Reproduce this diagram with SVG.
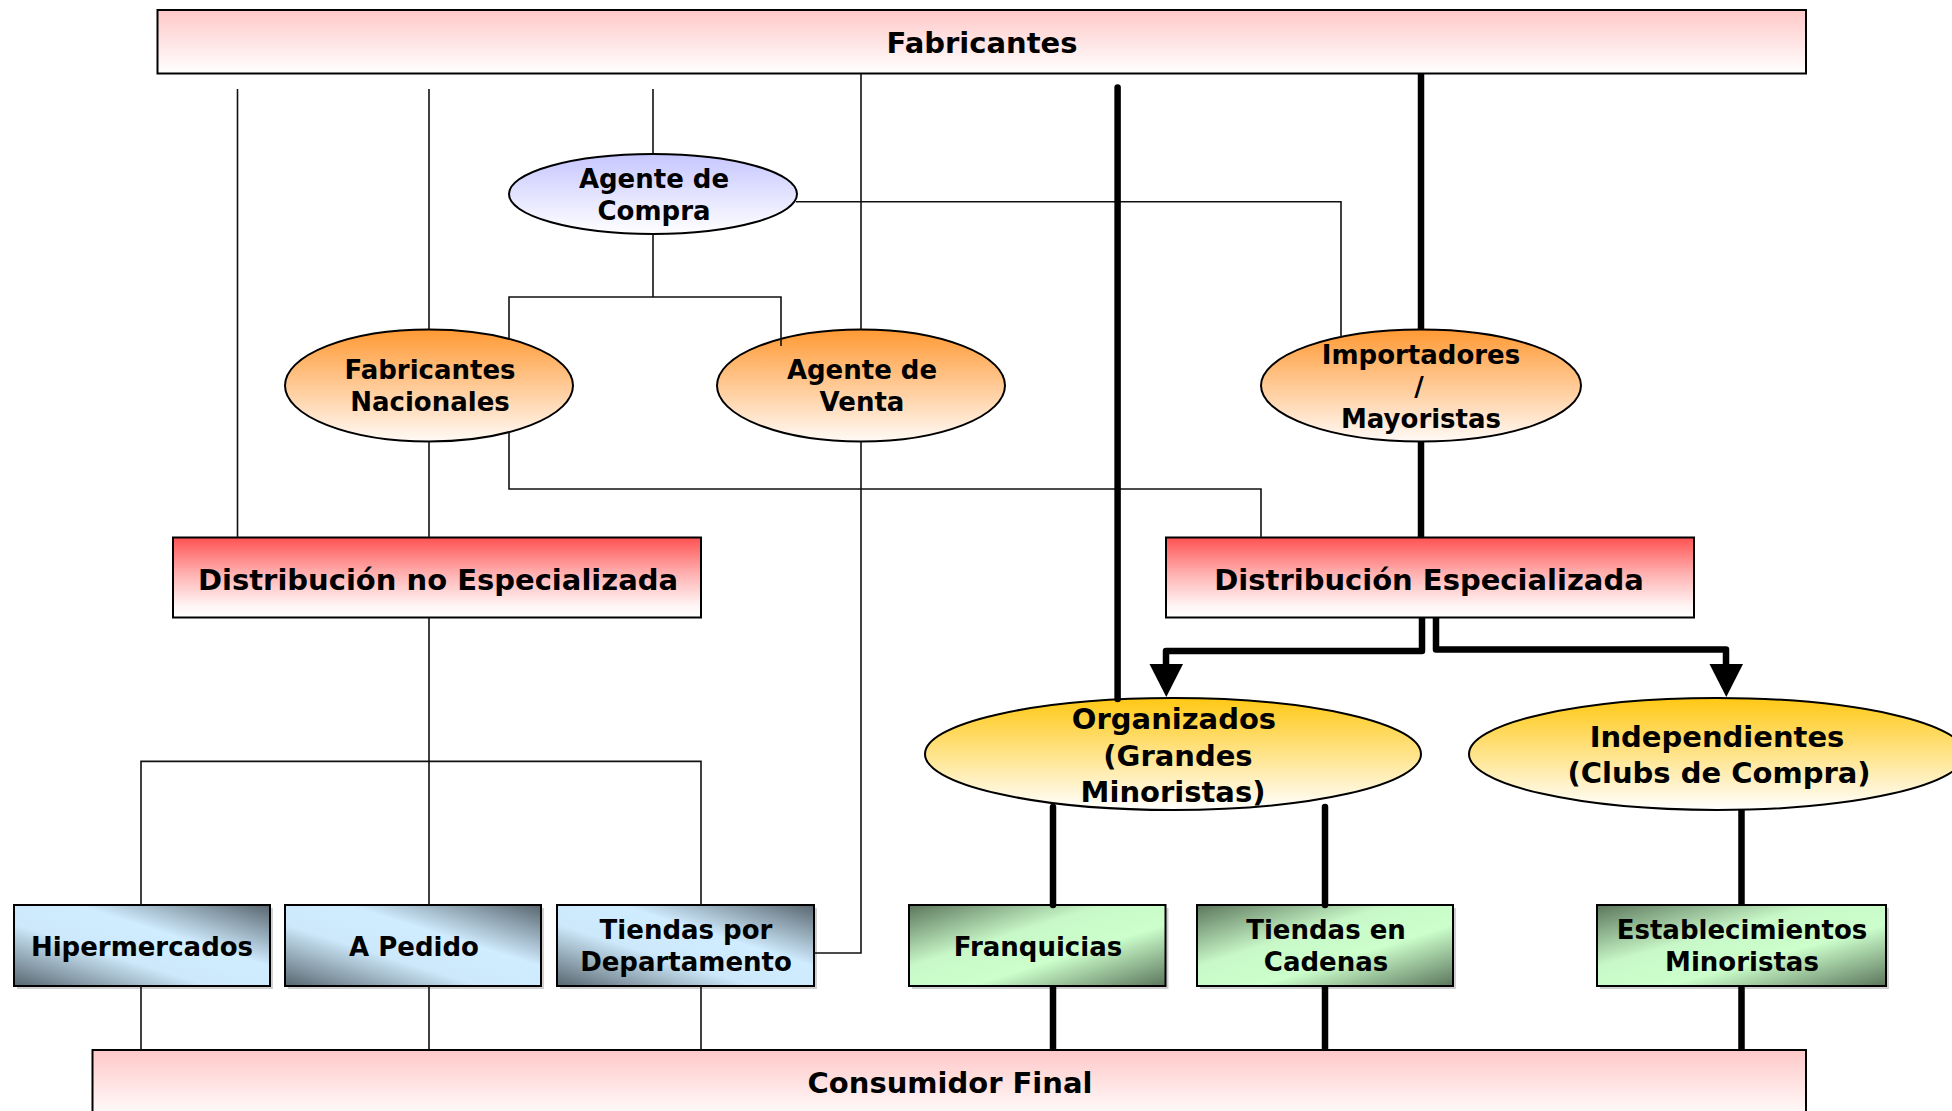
<svg xmlns="http://www.w3.org/2000/svg" width="1952" height="1111" viewBox="0 0 1952 1111">
<defs>
<linearGradient id="gPink" x1="0" y1="0" x2="0" y2="1"><stop offset="0" stop-color="#ffc8c8"/><stop offset="1" stop-color="#ffffff"/></linearGradient>
<linearGradient id="gRed" x1="0" y1="0" x2="0" y2="1"><stop offset="0" stop-color="#ff5252"/><stop offset="0.45" stop-color="#ffb0b0"/><stop offset="0.85" stop-color="#fff4f4"/><stop offset="1" stop-color="#ffffff"/></linearGradient>
<linearGradient id="gLav" x1="0" y1="0" x2="0" y2="1"><stop offset="0" stop-color="#c6c6ff"/><stop offset="1" stop-color="#ffffff"/></linearGradient>
<linearGradient id="gOrange" x1="0" y1="0" x2="0" y2="1"><stop offset="0" stop-color="#ff9933"/><stop offset="1" stop-color="#fffaf6"/></linearGradient>
<linearGradient id="gYellow" x1="0" y1="0" x2="0" y2="1"><stop offset="0" stop-color="#ffc814"/><stop offset="1" stop-color="#ffffff"/></linearGradient>
<linearGradient id="gBoxBlue" x1="0" y1="1" x2="1" y2="0"><stop offset="0" stop-color="#58666f"/><stop offset="0.38" stop-color="#cce8fa"/><stop offset="0.62" stop-color="#d0ecff"/><stop offset="1" stop-color="#58666f"/></linearGradient>
<linearGradient id="gBoxGreen" x1="0" y1="0" x2="1" y2="1"><stop offset="0" stop-color="#5b755b"/><stop offset="0.38" stop-color="#c8f8c8"/><stop offset="0.62" stop-color="#ccffcc"/><stop offset="1" stop-color="#5b755b"/></linearGradient>
<style>
.bx{stroke:#000;stroke-width:2}
.sh{fill:#999;opacity:0.45}
.t{font-family:"DejaVu Sans","Verdana",sans-serif;font-weight:bold;fill:#000;text-anchor:middle}
.t29{font-size:29px}
.t26{font-size:26px}
.thin{fill:none;stroke:#111;stroke-width:1.6}
.thick{fill:none;stroke:#000;stroke-width:6.5;stroke-linejoin:round}
.rc{stroke-linecap:round}
</style>
</defs>
<rect width="1952" height="1111" fill="#ffffff"/>

<g id="fabricantes">
<rect class="bx" x="157.5" y="10" width="1648.5" height="63.5" fill="url(#gPink)"/>
<text class="t t29" x="982" y="53">Fabricantes</text>
</g>

<g id="consumidor-final">
<rect class="bx" x="92.5" y="1050" width="1713.5" height="70" fill="url(#gPink)"/>
<text class="t t29" x="950" y="1093">Consumidor Final</text>
</g>

<g id="agente-compra">
<ellipse class="bx" cx="653" cy="194" rx="144" ry="40" fill="url(#gLav)"/>
<text class="t t26" x="654" y="188">Agente de</text>
<text class="t t26" x="654" y="220">Compra</text>
</g>

<g id="fabricantes-nacionales">
<ellipse class="bx" cx="429" cy="385.5" rx="144" ry="56" fill="url(#gOrange)"/>
<text class="t t26" x="430" y="379">Fabricantes</text>
<text class="t t26" x="430" y="411">Nacionales</text>
</g>

<g id="agente-venta">
<ellipse class="bx" cx="861" cy="385.5" rx="144" ry="56" fill="url(#gOrange)"/>
<text class="t t26" x="862" y="379">Agente de</text>
<text class="t t26" x="862" y="411">Venta</text>
</g>

<g id="importadores">
<ellipse class="bx" cx="1421" cy="385.5" rx="160" ry="56" fill="url(#gOrange)"/>
<text class="t t26" x="1421" y="364">Importadores</text>
<text class="t t26" x="1419" y="396">/</text>
<text class="t t26" x="1421" y="428">Mayoristas</text>
</g>

<g id="dist-no-especializada">
<rect class="bx" x="173" y="537.5" width="528" height="80" fill="url(#gRed)"/>
<text class="t t29" x="438" y="590">Distribución no Especializada</text>
</g>

<g id="dist-especializada">
<rect class="bx" x="1166" y="537.5" width="528" height="80" fill="url(#gRed)"/>
<text class="t t29" x="1429" y="590">Distribución Especializada</text>
</g>

<g id="organizados">
<ellipse class="bx" cx="1173" cy="754" rx="248" ry="56" fill="url(#gYellow)"/>
<text class="t t29" x="1174" y="729">Organizados</text>
<text class="t t29" x="1178" y="766">(Grandes</text>
<text class="t t29" x="1173" y="802">Minoristas)</text>
</g>

<g id="independientes">
<ellipse class="bx" cx="1717" cy="754" rx="248" ry="56" fill="url(#gYellow)"/>
<text class="t t29" x="1717" y="747">Independientes</text>
<text class="t t29" x="1719" y="783">(Clubs de Compra)</text>
</g>

<g id="hipermercados">
<rect class="sh" x="17" y="908" width="256" height="81"/>
<rect class="bx" x="14" y="905" width="256" height="81" fill="url(#gBoxBlue)"/>
<text class="t t26" x="142" y="956">Hipermercados</text>
</g>

<g id="a-pedido">
<rect class="sh" x="288" y="908" width="256" height="81"/>
<rect class="bx" x="285" y="905" width="256" height="81" fill="url(#gBoxBlue)"/>
<text class="t t26" x="414" y="956">A Pedido</text>
</g>

<g id="tiendas-departamento">
<rect class="sh" x="560" y="908" width="257" height="81"/>
<rect class="bx" x="557" y="905" width="257" height="81" fill="url(#gBoxBlue)"/>
<text class="t t26" x="686" y="939">Tiendas por</text>
<text class="t t26" x="686" y="971">Departamento</text>
</g>

<g id="franquicias">
<rect class="sh" x="912" y="908" width="256.5" height="81"/>
<rect class="bx" x="909" y="905" width="256.5" height="81" fill="url(#gBoxGreen)"/>
<text class="t t26" x="1038" y="956">Franquicias</text>
</g>

<g id="tiendas-cadenas">
<rect class="sh" x="1200" y="908" width="256" height="81"/>
<rect class="bx" x="1197" y="905" width="256" height="81" fill="url(#gBoxGreen)"/>
<text class="t t26" x="1326" y="939">Tiendas en</text>
<text class="t t26" x="1326" y="971">Cadenas</text>
</g>

<g id="establecimientos">
<rect class="sh" x="1600" y="908" width="289" height="81"/>
<rect class="bx" x="1597" y="905" width="289" height="81" fill="url(#gBoxGreen)"/>
<text class="t t26" x="1742" y="939">Establecimientos</text>
<text class="t t26" x="1742" y="971">Minoristas</text>
</g>

<g id="connectors">
<path class="thin" d="M237.5 89 V537.5"/>
<path class="thin" d="M429 89 V329.5"/>
<path class="thin" d="M653 89 V154"/>
<path class="thin" d="M861 73.5 V329.5"/>
<path class="thin" d="M796 201.8 H1341 V337"/>
<path class="thin" d="M653 234 V297 M509 339 V297 H781 V346"/>
<path class="thin" d="M509 432 V489 H1261 V537.5"/>
<path class="thin" d="M429 441.5 V537.5"/>
<path class="thin" d="M861 441.5 V953 H814"/>
<path class="thin" d="M429 617.5 V761.4 M141 905 V761.4 H701 V905 M429 761.4 V905"/>
<path class="thin" d="M141 986 V1050 M429 986 V1050 M701 986 V1050"/>
<path class="thick rc" d="M1117.6 87.5 V699"/>
<path class="thick" d="M1421 73.5 V329.5 M1421 441.5 V537.5"/>
<path class="thick" d="M1422 617.5 V651 H1166 V666"/>
<path class="thick" d="M1436 617.5 V649.5 H1726 V666"/>
<path d="M1149.5 664 L1183 664 L1166.3 697 Z" fill="#000"/>
<path d="M1709.5 664 L1743 664 L1726.3 697 Z" fill="#000"/>
<path class="thick rc" d="M1053 807 V905 M1325 807 V905"/>
<path class="thick" d="M1741.5 810 V905"/>
<path class="thick" d="M1053 986 V1050 M1325 986 V1050 M1741.5 986 V1050"/>
</g>
</svg>
